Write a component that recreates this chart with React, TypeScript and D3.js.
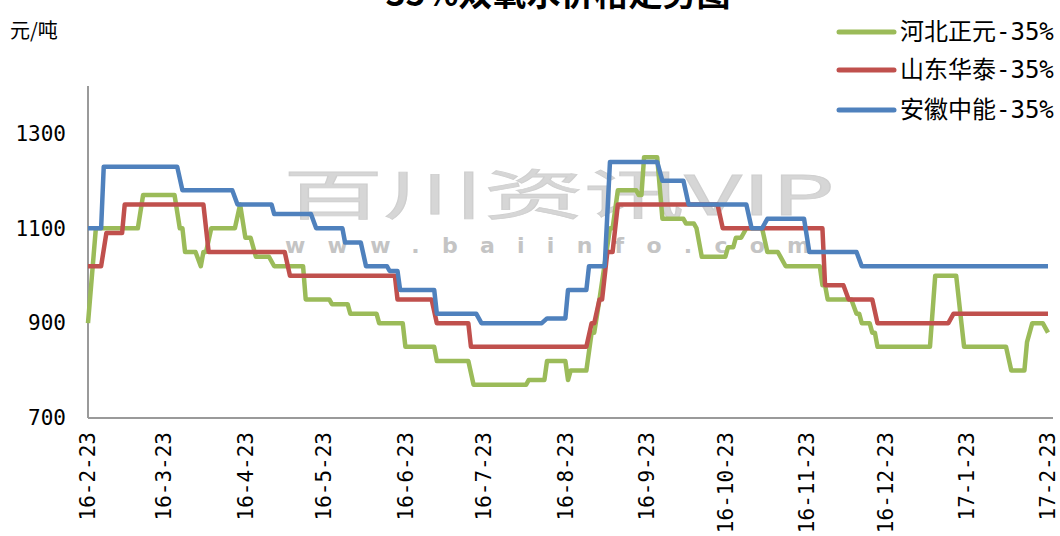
import React from "react";
import * as d3 from "d3";

const title = "35%双氧水价格走势图";
const unitLabel = "元/吨";
const seriesNames = ["河北正元-35%", "山东华泰-35%", "安徽中能-35%"];
const seriesColors = ["#9BBB59", "#C0504D", "#4F81BD"];
const yTicks = [700, 900, 1100, 1300];
const yDomain = [700, 1400];
const xDomain = ["2016-02-23", "2017-02-23"];
const xTicks = [
  "2016-02-23", "2016-03-23", "2016-04-23", "2016-05-23", "2016-06-23", "2016-07-23",
  "2016-08-23", "2016-09-23", "2016-10-23", "2016-11-23", "2016-12-23", "2017-01-23", "2017-02-23",
];

const hebei: [string, number][] = [
  ["2016-02-23", 900], ["2016-02-26", 1100], ["2016-03-13", 1100], ["2016-03-15", 1170], ["2016-03-27", 1170],
  ["2016-03-29", 1100], ["2016-03-30", 1100], ["2016-03-31", 1050], ["2016-04-04", 1050], ["2016-04-06", 1020],
  ["2016-04-07", 1050], ["2016-04-08", 1050], ["2016-04-10", 1100], ["2016-04-19", 1100], ["2016-04-21", 1150],
  ["2016-04-23", 1080], ["2016-04-25", 1080], ["2016-04-27", 1040], ["2016-05-02", 1040], ["2016-05-04", 1020],
  ["2016-05-15", 1020], ["2016-05-16", 950], ["2016-05-25", 950], ["2016-05-26", 940], ["2016-06-01", 940],
  ["2016-06-02", 920], ["2016-06-12", 920], ["2016-06-13", 900], ["2016-06-22", 900], ["2016-06-23", 850],
  ["2016-07-04", 850], ["2016-07-05", 820], ["2016-07-17", 820], ["2016-07-19", 770], ["2016-08-08", 770],
  ["2016-08-09", 780], ["2016-08-15", 780], ["2016-08-16", 820], ["2016-08-23", 820], ["2016-08-24", 780],
  ["2016-08-25", 800], ["2016-08-31", 800], ["2016-09-02", 880], ["2016-09-03", 880], ["2016-09-05", 950],
  ["2016-09-09", 1100], ["2016-09-10", 1100], ["2016-09-12", 1180], ["2016-09-19", 1180], ["2016-09-20", 1170],
  ["2016-09-21", 1170], ["2016-09-22", 1250], ["2016-09-27", 1250], ["2016-09-29", 1120], ["2016-10-07", 1120],
  ["2016-10-08", 1110], ["2016-10-11", 1110], ["2016-10-12", 1100], ["2016-10-14", 1040], ["2016-10-23", 1040],
  ["2016-10-24", 1060], ["2016-10-26", 1060], ["2016-10-27", 1080], ["2016-10-29", 1080], ["2016-10-31", 1100],
  ["2016-11-06", 1100], ["2016-11-08", 1050], ["2016-11-12", 1050], ["2016-11-15", 1020], ["2016-11-28", 1020],
  ["2016-11-29", 980], ["2016-11-30", 980], ["2016-12-01", 950], ["2016-12-10", 950], ["2016-12-12", 920],
  ["2016-12-13", 920], ["2016-12-14", 900], ["2016-12-17", 900], ["2016-12-18", 880], ["2016-12-19", 880],
  ["2016-12-20", 850], ["2017-01-09", 850], ["2017-01-11", 1000], ["2017-01-19", 1000], ["2017-01-21", 900],
  ["2017-01-22", 850], ["2017-02-07", 850], ["2017-02-09", 800], ["2017-02-14", 800], ["2017-02-15", 860],
  ["2017-02-17", 900], ["2017-02-21", 900], ["2017-02-23", 880],
];

const shandong: [string, number][] = [
  ["2016-02-23", 1020], ["2016-02-28", 1020], ["2016-03-01", 1090], ["2016-03-07", 1090], ["2016-03-08", 1150],
  ["2016-04-07", 1150], ["2016-04-09", 1050], ["2016-05-08", 1050], ["2016-05-10", 1000], ["2016-06-19", 1000],
  ["2016-06-20", 950], ["2016-07-03", 950], ["2016-07-05", 900], ["2016-07-17", 900], ["2016-07-18", 850],
  ["2016-08-31", 850], ["2016-09-02", 900], ["2016-09-03", 900], ["2016-09-05", 950], ["2016-09-06", 950],
  ["2016-09-08", 1050], ["2016-09-10", 1050], ["2016-09-12", 1150], ["2016-10-20", 1150], ["2016-10-22", 1100],
  ["2016-11-29", 1100], ["2016-11-30", 980], ["2016-12-07", 980], ["2016-12-09", 950], ["2016-12-18", 950],
  ["2016-12-20", 900], ["2017-01-16", 900], ["2017-01-18", 920], ["2017-02-23", 920],
];

const anhui: [string, number][] = [
  ["2016-02-23", 1100], ["2016-02-28", 1100], ["2016-02-29", 1230], ["2016-03-28", 1230], ["2016-03-30", 1180],
  ["2016-04-18", 1180], ["2016-04-20", 1150], ["2016-05-03", 1150], ["2016-05-04", 1130], ["2016-05-18", 1130],
  ["2016-05-20", 1100], ["2016-05-30", 1100], ["2016-05-31", 1070], ["2016-06-06", 1070], ["2016-06-08", 1020],
  ["2016-06-16", 1020], ["2016-06-17", 1010], ["2016-06-20", 1010], ["2016-06-21", 970], ["2016-07-04", 970],
  ["2016-07-05", 920], ["2016-07-20", 920], ["2016-07-22", 900], ["2016-08-14", 900], ["2016-08-16", 910],
  ["2016-08-23", 910], ["2016-08-24", 970], ["2016-08-31", 970], ["2016-09-01", 1020], ["2016-09-07", 1020],
  ["2016-09-09", 1240], ["2016-09-27", 1240], ["2016-09-29", 1200], ["2016-10-07", 1200], ["2016-10-09", 1150],
  ["2016-10-31", 1150], ["2016-11-02", 1100], ["2016-11-06", 1100], ["2016-11-08", 1120], ["2016-11-22", 1120],
  ["2016-11-24", 1050], ["2016-12-12", 1050], ["2016-12-14", 1020], ["2017-02-23", 1020],
];

const seriesData = [hebei, shandong, anhui];

const W = 1060;
const H = 536;
const M = { left: 88, right: 1048, top: 86, bottom: 418 };
const parse = d3.timeParse("%Y-%m-%d");
const fmt = d3.timeFormat("%y-%-m-%d");
const numFont = "'DejaVu Sans Mono', 'Noto Sans CJK SC', sans-serif";
const cjkFont = "'Noto Sans CJK SC', sans-serif";

export default function App() {
  const x = d3.scaleTime().domain(xDomain.map((s) => parse(s) as Date)).range([M.left, M.right]);
  const y = d3.scaleLinear().domain(yDomain).range([M.bottom, M.top]);
  const line = d3
    .line<[string, number]>()
    .x((d) => x(parse(d[0]) as Date))
    .y((d) => y(d[1]));

  return (
    <svg width={W} height={H} style={{ position: "absolute", left: 0, top: 0, background: "#fff" }}>
      <rect x={0} y={0} width={W} height={H} fill="#fff" />
      {/* watermark */}
      <text x={283} y={215} fontFamily={cjkFont} fontSize={54} fill="#d6d6d6" stroke="#cfcfcf" strokeWidth={0.8} textLength={552} lengthAdjust="spacingAndGlyphs">
        百川资讯VIP
      </text>
      <text x={285} y={253} fontFamily="'DejaVu Sans', sans-serif" fontWeight="bold" fontSize={22} fill="#c4c4c4" textLength={525} lengthAdjust="spacing">
        www.baiinfo.com
      </text>

      {/* title (cut off at the top, as in the source) */}
      <text x={558} y={6} textAnchor="middle" fontFamily={cjkFont} fontWeight="bold" fontSize={34} fill="#000">
        {title}
      </text>
      <text x={10} y={38} fontFamily={cjkFont} fontSize={20} fill="#000">
        {unitLabel}
      </text>

      {/* axes */}
      <line x1={M.left} x2={M.left} y1={M.top} y2={M.bottom} stroke="#9a9a9a" strokeWidth={2} />
      <line x1={M.left} x2={1053} y1={M.bottom} y2={M.bottom} stroke="#9a9a9a" strokeWidth={2} />

      {yTicks.map((t) => (
        <text key={t} x={66} y={y(t)} dy="0.35em" textAnchor="end" fontFamily={numFont} fontSize={21} fill="#000">
          {t}
        </text>
      ))}
      {xTicks.map((t) => {
        const px = x(parse(t) as Date);
        return (
          <text
            key={t}
            transform={`translate(${px},432) rotate(-90)`}
            dy="0.35em"
            textAnchor="end"
            fontFamily={numFont}
            fontSize={21}
            fill="#000"
          >
            {fmt(parse(t) as Date)}
          </text>
        );
      })}

      {/* series */}
      {seriesData.map((s, i) => (
        <path key={i} d={line(s) || ""} fill="none" stroke={seriesColors[i]} strokeWidth={4.5} strokeLinejoin="round" />
      ))}

      {/* legend */}
      {seriesNames.map((n, i) => {
        const ly = [32, 70, 110][i];
        return (
          <g key={n}>
            <line x1={839} x2={894} y1={ly} y2={ly} stroke={seriesColors[i]} strokeWidth={5} strokeLinecap="round" />
            <text x={900} y={ly} dy="0.35em" fontFamily={numFont} fontSize={24} fill="#000">
              {n}
            </text>
          </g>
        );
      })}
    </svg>
  );
}
